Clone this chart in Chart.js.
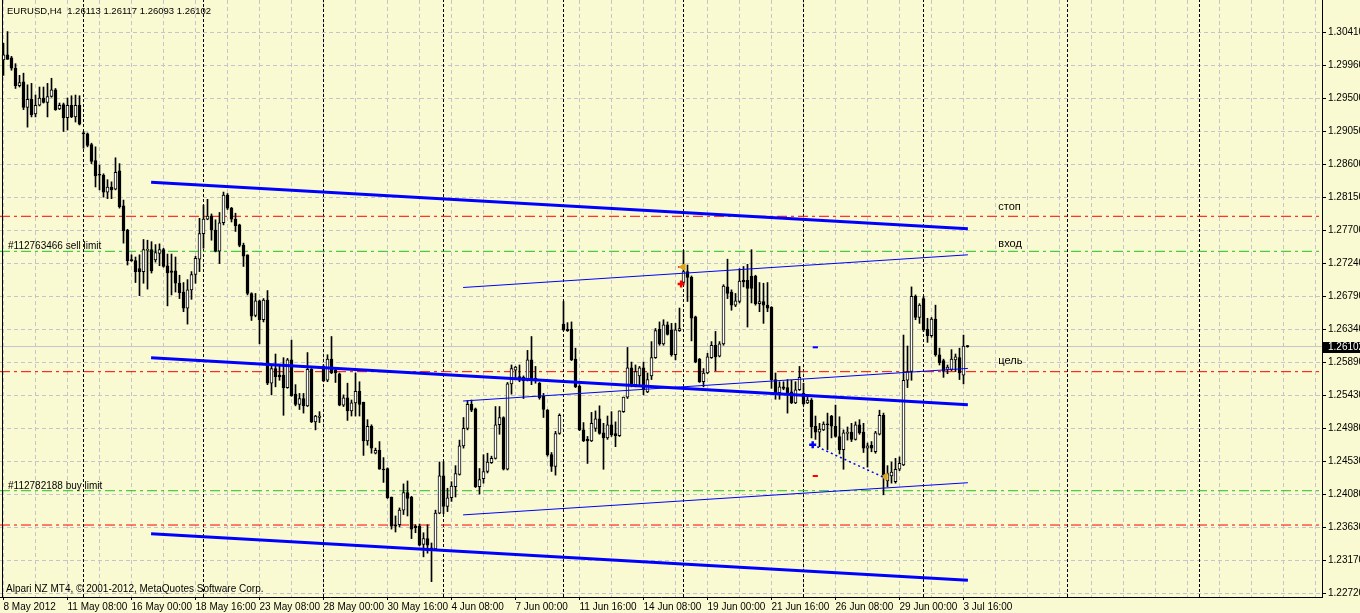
<!DOCTYPE html>
<html>
<head>
<meta charset="utf-8">
<script src="https://cdn.jsdelivr.net/npm/chart.js@4.4.1/dist/chart.umd.min.js"></script>
<style>
  html, body { margin: 0; padding: 0; background: #fafad2; }
  #wrap { width: 1360px; height: 613px; }
</style>
</head>
<body>
<div id="wrap"><canvas id="chart" width="1360" height="613"></canvas></div>
<script>
// EURUSD H4, bars from 8 May 2012 16:00 to 3 Jul 2012 20:00 (index 0..241)
const opens = [
  1.3003, 1.3010, 1.3006, 1.2992, 1.2968, 1.2973, 1.2938, 1.2949, 1.2929, 1.2941,
  1.2951, 1.2945, 1.2953, 1.2962, 1.2936, 1.2942, 1.2924, 1.2941, 1.2925, 1.2941,
  1.2903, 1.2902, 1.2887, 1.2865, 1.2846, 1.2845, 1.2822, 1.2829, 1.2826, 1.2851,
  1.2803, 1.2770, 1.2729, 1.2728, 1.2717, 1.2713, 1.2742, 1.2743, 1.2729, 1.2738,
  1.2743, 1.2721, 1.2714, 1.2714, 1.2697, 1.2685, 1.2663, 1.2688, 1.2709, 1.2730,
  1.2765, 1.2785, 1.2789, 1.2770, 1.2741, 1.2780, 1.2818, 1.2800, 1.2785, 1.2777,
  1.2749, 1.2736, 1.2683, 1.2653, 1.2673, 1.2647, 1.2674, 1.2560, 1.2580, 1.2571,
  1.2571, 1.2554, 1.2592, 1.2545, 1.2531, 1.2539, 1.2529, 1.2579, 1.2507, 1.2513,
  1.2583, 1.2564, 1.2593, 1.2578, 1.2573, 1.2530, 1.2540, 1.2522, 1.2533, 1.2549,
  1.2534, 1.2481, 1.2501, 1.2464, 1.2468, 1.2442, 1.2443, 1.2404, 1.2366, 1.2366,
  1.2386, 1.2410, 1.2404, 1.2364, 1.2364, 1.2339, 1.2347, 1.2334, 1.2333, 1.2382,
  1.2433, 1.2391, 1.2403, 1.2418, 1.2435, 1.2474, 1.2498, 1.2531, 1.2525, 1.2418,
  1.2429, 1.2439, 1.2451, 1.2457, 1.2503, 1.2513, 1.2442, 1.2559, 1.2578, 1.2569,
  1.2568, 1.2564, 1.2592, 1.2567, 1.2560, 1.2542, 1.2523, 1.2462, 1.2446, 1.2491,
  1.2641, 1.2634, 1.2634, 1.2593, 1.2556, 1.2496, 1.2483, 1.2481, 1.2498, 1.2511,
  1.2492, 1.2485, 1.2503, 1.2491, 1.2488, 1.2521, 1.2541, 1.2581, 1.2558, 1.2570,
  1.2581, 1.2548, 1.2570, 1.2595, 1.2634, 1.2614, 1.2640, 1.2633, 1.2599, 1.2632,
  1.2698, 1.2713, 1.2705, 1.2651, 1.2593, 1.2562, 1.2574, 1.2595, 1.2612, 1.2597,
  1.2614, 1.2692, 1.2685, 1.2667, 1.2672, 1.2701, 1.2701, 1.2707, 1.2707, 1.2669,
  1.2672, 1.2667, 1.2664, 1.2565, 1.2547, 1.2555, 1.2554, 1.2548, 1.2533, 1.2551,
  1.2546, 1.2533, 1.2537, 1.2501, 1.2493, 1.2496, 1.2504, 1.2515, 1.2501, 1.2487,
  1.2469, 1.2491, 1.2493, 1.2483, 1.2503, 1.2493, 1.2471, 1.2475, 1.2466, 1.2490,
  1.2516, 1.2426, 1.2433, 1.2425, 1.2442, 1.2448, 1.2564, 1.2576, 1.2679, 1.2650,
  1.2676, 1.2634, 1.2625, 1.2648, 1.2599, 1.2591, 1.2579, 1.2579, 1.2592, 1.2595,
  1.2571, 1.26113
];
const highs = [
  1.3026, 1.3042, 1.3008, 1.2998, 1.2982, 1.2985, 1.2969, 1.2971, 1.2955, 1.2966,
  1.2966, 1.2971, 1.2978, 1.2964, 1.2944, 1.2944, 1.2951, 1.2954, 1.2955, 1.2954,
  1.2905, 1.2903, 1.2889, 1.2884, 1.2859, 1.2847, 1.2839, 1.2836, 1.2869, 1.2861,
  1.2811, 1.2771, 1.2736, 1.2733, 1.2736, 1.2757, 1.2756, 1.2754, 1.2750, 1.2751,
  1.2745, 1.2737, 1.2737, 1.2733, 1.2708, 1.2698, 1.2702, 1.2713, 1.2734, 1.2786,
  1.2804, 1.2812, 1.2792, 1.2784, 1.2794, 1.2822, 1.2820, 1.2801, 1.2793, 1.2778,
  1.2752, 1.2736, 1.2684, 1.2683, 1.2674, 1.2676, 1.2687, 1.2585, 1.2600, 1.2586,
  1.2595, 1.2594, 1.2619, 1.2558, 1.2546, 1.2546, 1.2602, 1.2580, 1.2516, 1.2521,
  1.2585, 1.2599, 1.2624, 1.2579, 1.2574, 1.2544, 1.2560, 1.2537, 1.2574, 1.2562,
  1.2534, 1.2510, 1.2503, 1.2471, 1.2480, 1.2458, 1.2444, 1.2404, 1.2378, 1.2389,
  1.2422, 1.2426, 1.2405, 1.2366, 1.2367, 1.2355, 1.2366, 1.2341, 1.2386, 1.2452,
  1.2452, 1.2416, 1.2425, 1.2447, 1.2482, 1.2513, 1.2536, 1.2537, 1.2526, 1.2443,
  1.2462, 1.2464, 1.2460, 1.2528, 1.2528, 1.2514, 1.2561, 1.2585, 1.2583, 1.2585,
  1.2570, 1.2605, 1.2624, 1.2583, 1.2561, 1.2546, 1.2524, 1.2465, 1.2494, 1.2518,
  1.2672, 1.2643, 1.2644, 1.2608, 1.2558, 1.2506, 1.2487, 1.2520, 1.2522, 1.2529,
  1.2505, 1.2515, 1.2521, 1.2507, 1.2522, 1.2541, 1.2609, 1.2589, 1.2585, 1.2583,
  1.2589, 1.2574, 1.2617, 1.2635, 1.2644, 1.2647, 1.2644, 1.2642, 1.2642, 1.2663,
  1.2742, 1.2722, 1.2707, 1.2652, 1.2594, 1.2580, 1.2601, 1.2617, 1.2631, 1.2617,
  1.2695, 1.2730, 1.2688, 1.2683, 1.2717, 1.2720, 1.2723, 1.2743, 1.2708, 1.2698,
  1.2697, 1.2698, 1.2665, 1.2574, 1.2562, 1.2562, 1.2565, 1.2564, 1.2562, 1.2583,
  1.2560, 1.2544, 1.2539, 1.2515, 1.2505, 1.2507, 1.2519, 1.2516, 1.2530, 1.2514,
  1.2496, 1.2500, 1.2505, 1.2507, 1.2510, 1.2505, 1.2478, 1.2480, 1.2494, 1.2523,
  1.2519, 1.2447, 1.2452, 1.2457, 1.2459, 1.2626, 1.2611, 1.2692, 1.2681, 1.2669,
  1.2679, 1.2649, 1.2650, 1.2667, 1.2608, 1.2593, 1.2585, 1.2606, 1.2600, 1.2608,
  1.2626, 1.26117
];
const lows = [
  1.2982, 1.3004, 1.2989, 1.2964, 1.2966, 1.2935, 1.2911, 1.2925, 1.2925, 1.2940,
  1.2944, 1.2925, 1.2952, 1.2934, 1.2935, 1.2905, 1.2907, 1.2924, 1.2918, 1.2914,
  1.2882, 1.2884, 1.2861, 1.2829, 1.2825, 1.2815, 1.2813, 1.2813, 1.2825, 1.2800,
  1.2752, 1.2722, 1.2727, 1.2698, 1.2680, 1.2697, 1.2689, 1.2711, 1.2726, 1.2721,
  1.2719, 1.2666, 1.2681, 1.2685, 1.2676, 1.2658, 1.2641, 1.2675, 1.2697, 1.2713,
  1.2745, 1.2784, 1.2756, 1.2740, 1.2724, 1.2777, 1.2798, 1.2781, 1.2768, 1.2747,
  1.2720, 1.2681, 1.2646, 1.2651, 1.2614, 1.2644, 1.2558, 1.2544, 1.2555, 1.2564,
  1.2516, 1.2553, 1.2542, 1.2529, 1.2524, 1.2519, 1.2528, 1.2506, 1.2496, 1.2506,
  1.2562, 1.2562, 1.2573, 1.2561, 1.2529, 1.2528, 1.2509, 1.2515, 1.2515, 1.2515,
  1.2461, 1.2475, 1.2464, 1.2463, 1.2442, 1.2424, 1.2402, 1.2360, 1.2356, 1.2363,
  1.2380, 1.2378, 1.2347, 1.2355, 1.2337, 1.2322, 1.2327, 1.2288, 1.2331, 1.2381,
  1.2381, 1.2384, 1.2398, 1.2404, 1.2434, 1.2471, 1.2496, 1.2521, 1.2417, 1.2408,
  1.2423, 1.2437, 1.2450, 1.2456, 1.2490, 1.2441, 1.2441, 1.2545, 1.2567, 1.2562,
  1.2539, 1.2563, 1.2558, 1.2560, 1.2538, 1.2513, 1.2460, 1.2439, 1.2434, 1.2490,
  1.2632, 1.2631, 1.2591, 1.2554, 1.2495, 1.2480, 1.2450, 1.2480, 1.2494, 1.2490,
  1.2442, 1.2483, 1.2487, 1.2473, 1.2487, 1.2520, 1.2539, 1.2555, 1.2555, 1.2556,
  1.2544, 1.2547, 1.2565, 1.2594, 1.2612, 1.2612, 1.2626, 1.2597, 1.2592, 1.2631,
  1.2697, 1.2672, 1.2618, 1.2588, 1.2561, 1.2555, 1.2573, 1.2594, 1.2577, 1.2596,
  1.2612, 1.2676, 1.2660, 1.2665, 1.2670, 1.2692, 1.2637, 1.2670, 1.2667, 1.2658,
  1.2642, 1.2658, 1.2553, 1.2538, 1.2538, 1.2551, 1.2519, 1.2532, 1.2532, 1.2550,
  1.2530, 1.2532, 1.2485, 1.2483, 1.2473, 1.2495, 1.2469, 1.2485, 1.2486, 1.2463,
  1.2442, 1.2482, 1.2480, 1.2482, 1.2490, 1.2465, 1.2445, 1.2466, 1.2464, 1.2489,
  1.2407, 1.2418, 1.2423, 1.2423, 1.2440, 1.2447, 1.2554, 1.2564, 1.2647, 1.2642,
  1.2631, 1.2616, 1.2623, 1.2597, 1.2585, 1.2568, 1.2573, 1.2577, 1.2576, 1.2565,
  1.2559, 1.26093
];
const closes = [
  1.3010, 1.3004, 1.2992, 1.2968, 1.2972, 1.2938, 1.2949, 1.2928, 1.2941, 1.2951,
  1.2945, 1.2953, 1.2962, 1.2935, 1.2941, 1.2924, 1.2941, 1.2925, 1.2941, 1.2915,
  1.2902, 1.2886, 1.2864, 1.2844, 1.2845, 1.2822, 1.2829, 1.2825, 1.2849, 1.2802,
  1.2769, 1.2728, 1.2728, 1.2713, 1.2713, 1.2743, 1.2743, 1.2714, 1.2739, 1.2743,
  1.2720, 1.2711, 1.2712, 1.2697, 1.2684, 1.2663, 1.2688, 1.2709, 1.2731, 1.2765,
  1.2785, 1.2789, 1.2770, 1.2741, 1.2780, 1.2818, 1.2800, 1.2785, 1.2776, 1.2749,
  1.2734, 1.2683, 1.2652, 1.2673, 1.2647, 1.2674, 1.2560, 1.2580, 1.2569, 1.2569,
  1.2554, 1.2592, 1.2543, 1.2531, 1.2539, 1.2529, 1.2579, 1.2507, 1.2515, 1.2515,
  1.2563, 1.2593, 1.2574, 1.2574, 1.2530, 1.2540, 1.2522, 1.2533, 1.2549, 1.2531,
  1.2481, 1.2501, 1.2471, 1.2468, 1.2442, 1.2441, 1.2403, 1.2364, 1.2364, 1.2386,
  1.2410, 1.2402, 1.2360, 1.2362, 1.2338, 1.2347, 1.2338, 1.2333, 1.2382, 1.2433,
  1.2391, 1.2403, 1.2419, 1.2436, 1.2474, 1.2498, 1.2531, 1.2523, 1.2418, 1.2428,
  1.2439, 1.2452, 1.2457, 1.2503, 1.2513, 1.2442, 1.2559, 1.2580, 1.2582, 1.2564,
  1.2563, 1.2592, 1.2563, 1.2563, 1.2540, 1.2524, 1.2462, 1.2446, 1.2491, 1.2516,
  1.2633, 1.2632, 1.2592, 1.2555, 1.2496, 1.2481, 1.2481, 1.2505, 1.2511, 1.2491,
  1.2485, 1.2503, 1.2489, 1.2488, 1.2522, 1.2541, 1.2581, 1.2558, 1.2576, 1.2581,
  1.2551, 1.2565, 1.2595, 1.2632, 1.2614, 1.2640, 1.2627, 1.2599, 1.2633, 1.2635,
  1.2713, 1.2705, 1.2649, 1.2589, 1.2562, 1.2574, 1.2596, 1.2612, 1.2596, 1.2614,
  1.2693, 1.2683, 1.2667, 1.2673, 1.2700, 1.2699, 1.2690, 1.2690, 1.2669, 1.2672,
  1.2667, 1.2663, 1.2565, 1.2547, 1.2555, 1.2553, 1.2547, 1.2533, 1.2551, 1.2568,
  1.2532, 1.2537, 1.2500, 1.2493, 1.2497, 1.2504, 1.2503, 1.2501, 1.2487, 1.2469,
  1.2492, 1.2493, 1.2483, 1.2503, 1.2492, 1.2471, 1.2474, 1.2471, 1.2492, 1.2516,
  1.2432, 1.2436, 1.2438, 1.2442, 1.2450, 1.2564, 1.2576, 1.2679, 1.2650, 1.2667,
  1.2633, 1.2625, 1.2648, 1.2599, 1.2588, 1.2576, 1.2582, 1.2593, 1.2596, 1.2574,
  1.2611, 1.26102
];

// time axis: a label every 16 bars, grid every 8 bars
const dateLabels = ["8 May 2012", "11 May 08:00", "16 May 00:00", "18 May 16:00", "23 May 08:00",
  "28 May 00:00", "30 May 16:00", "4 Jun 08:00", "7 Jun 00:00", "11 Jun 16:00", "14 Jun 08:00",
  "19 Jun 00:00", "21 Jun 16:00", "26 Jun 08:00", "29 Jun 00:00", "3 Jul 16:00"];
const priceLabels = ["1.30410", "1.29960", "1.29500", "1.29050", "1.28600", "1.28150", "1.27700",
  "1.27240", "1.26790", "1.26340", "1.25890", "1.25430", "1.24980", "1.24530", "1.24080",
  "1.23630", "1.23170", "1.22720"];

// week separators (bar index)
const sepBars = [20, 50, 80, 110, 140, 170, 200, 230, 266, 299];

// channel lines [bar1, price1, bar2, price2]
const thickLines = [
  [36.9, 1.28355, 241.1, 1.27717],
  [36.9, 1.25948, 241.1, 1.25303],
  [36.9, 1.23537, 241.1, 1.22900]
];
const thinLines = [
  [114.9, 1.26912, 241.1, 1.27360],
  [114.9, 1.25356, 241.1, 1.25803],
  [114.9, 1.23795, 241.1, 1.24236]
];

// horizontal levels: stop, sell limit, target, buy limit, buy stop
const levelPrices = [1.27888, 1.27408, 1.25758, 1.24126, 1.23656];
const levelIsOrder = [false, true, false, true, false];
const bidPrice = 1.26102;

// text notes
const noteTexts = ["стоп", "вход", "цель"];
const noteBars = [248.7, 248.7, 248.7];
const notePrices = [1.27974, 1.27463, 1.25863];

// trade marks
const tradeOpen = [202.3, 1.24757];
const tradeClose = [219.9, 1.24314];
const tradeSL = [1.26092];
const tradeTP = [1.24328];
const sellMarkBar = 169.4, sellMarkPrice = 1.26960;
const closeMarks = [[169.9, 1.27193], [220.4, 1.24319]];

const Y_MAX = 1.308528, Y_MIN = 1.226693;
const X_MIN = -0.875, X_MAX = 329.625;
const last = closes.length - 1;
const FONT = '"Liberation Sans", Arial, sans-serif';

const wickData = opens.map((_, i) => ({ x: i, y: [lows[i], highs[i]] }));
const bodyData = opens.map((_, i) => ({ x: i, y: [opens[i], closes[i]] }));

const sepData = [];
sepBars.forEach(b => {
  sepData.push({ x: b, y: Y_MIN }, { x: b, y: Y_MAX }, { x: b, y: null });
});

const seg = (l) => [{ x: l[0], y: l[1] }, { x: l[2], y: l[3] }];

const datasets = [];

// trade marks on top
datasets.push({
  type: 'line', data: [{ x: tradeOpen[0], y: tradeOpen[1] }, { x: tradeClose[0], y: tradeClose[1] }],
  borderColor: '#0000ff', borderWidth: 1.5, borderDash: [2, 3], pointRadius: 0, order: 0
});
datasets.push({
  type: 'line', data: [{ x: tradeOpen[0], y: tradeOpen[1] }], showLine: false,
  pointStyle: 'cross', pointRadius: 3.5, pointBorderWidth: 2.5, pointBorderColor: '#0000ff', order: 0
});
datasets.push({
  type: 'line', data: [{ x: sellMarkBar, y: sellMarkPrice }], showLine: false,
  pointStyle: 'cross', pointRadius: 3.5, pointBorderWidth: 2.5, pointBorderColor: '#ff0000', order: 0
});
datasets.push({
  type: 'line', data: closeMarks.map(m => ({ x: m[0], y: m[1] })), showLine: false,
  pointStyle: 'triangle', rotation: -90, pointRadius: 4, pointBackgroundColor: '#daa520',
  pointBorderColor: '#daa520', order: 0
});
datasets.push({
  type: 'line', data: [{ x: tradeOpen[0], y: tradeSL[0] }, { x: tradeOpen[0] + 1.3, y: tradeSL[0] }],
  borderColor: '#0000ff', borderWidth: 2, pointRadius: 0, order: 0
});
datasets.push({
  type: 'line', data: [{ x: tradeOpen[0], y: tradeTP[0] }, { x: tradeOpen[0] + 1.3, y: tradeTP[0] }],
  borderColor: '#ff0000', borderWidth: 2, pointRadius: 0, order: 0
});
datasets.push({
  type: 'line', data: [{ x: sellMarkBar - 0.8, y: closeMarks[0][1] }, { x: sellMarkBar + 0.4, y: closeMarks[0][1] }],
  borderColor: '#ff0000', borderWidth: 1.5, pointRadius: 0, order: 0
});

// channel lines
thickLines.forEach(l => datasets.push({
  type: 'line', data: seg(l), borderColor: '#0000ff', borderWidth: 3, pointRadius: 0, order: 1
}));
thinLines.forEach(l => datasets.push({
  type: 'line', data: seg(l), borderColor: '#0000ff', borderWidth: 1, pointRadius: 0, order: 1
}));

// candles
datasets.push({
  type: 'bar', data: bodyData, grouped: false, barThickness: 3, minBarLength: 1,
  backgroundColor: c => closes[c.dataIndex] > opens[c.dataIndex] ? '#ffffff' : '#000000',
  borderColor: '#000000', borderWidth: 1, borderSkipped: false, order: 2
});
datasets.push({
  type: 'bar', data: wickData, grouped: false, barThickness: 1, minBarLength: 1,
  backgroundColor: '#000000', order: 3
});

// levels
levelPrices.forEach((p, i) => datasets.push({
  type: 'line', data: [{ x: X_MIN, y: p }, { x: X_MAX, y: p }],
  borderColor: levelIsOrder[i] ? '#20c020' : '#ff0000', borderWidth: 1,
  borderDash: [10, 4, 3, 4], pointRadius: 0, order: 4
}));
datasets.push({
  type: 'line', data: sepData, borderColor: '#000000', borderWidth: 1, borderDash: [3, 2],
  pointRadius: 0, spanGaps: false, order: 5
});
datasets.push({
  type: 'line', data: [{ x: X_MIN, y: bidPrice }, { x: X_MAX, y: bidPrice }],
  borderColor: '#c4c4cc', borderWidth: 1, pointRadius: 0, order: 6
});

const overlay = {
  id: 'overlay',
  beforeDraw(chart) {
    const ctx = chart.ctx;
    ctx.save();
    ctx.fillStyle = '#fafad2';
    ctx.fillRect(0, 0, chart.width, chart.height);
    ctx.restore();
  },
  afterDraw(chart) {
    const { ctx, chartArea: a, scales: { x, y } } = chart;
    ctx.save();
    ctx.fillStyle = '#000';
    ctx.textBaseline = 'alphabetic';
    ctx.font = '9.5px ' + FONT;
    const ohlc = [opens[last], highs[last], lows[last], closes[last]].map(v => v.toFixed(5)).join(' ');
    ctx.fillText('EURUSD,H4  ' + ohlc, 7, 13.5);
    ctx.font = '10px ' + FONT;
    ctx.fillText('#112763466 sell limit', 8, y.getPixelForValue(levelPrices[1]) - 2);
    ctx.fillText('#112782188 buy limit', 8, y.getPixelForValue(levelPrices[3]) - 2);
    ctx.fillText('Alpari NZ MT4, \u00a9 2001-2012, MetaQuotes Software Corp.', 6, a.bottom - 5.5);
    ctx.font = '11px ' + FONT;
    noteTexts.forEach((t, i) => {
      ctx.fillText(t, x.getPixelForValue(noteBars[i]), y.getPixelForValue(notePrices[i]));
    });
    // left frame line
    ctx.fillRect(2, 0, 1, a.bottom);
    // current price tag
    const py = Math.round(y.getPixelForValue(closes[last]));
    ctx.fillRect(a.right + 1, py - 5, chart.width - a.right, 11);
    ctx.fillStyle = '#fff';
    ctx.textBaseline = 'middle';
    ctx.font = '10px ' + FONT;
    ctx.fillText(closes[last].toFixed(5), a.right + 6, py + 0.5);
    ctx.restore();
  }
};

new Chart(document.getElementById('chart'), {
  type: 'bar',
  data: { datasets },
  plugins: [overlay],
  options: {
    responsive: false,
    devicePixelRatio: 1,
    animation: false,
    events: [],
    layout: { padding: 0, autoPadding: false },
    plugins: { legend: { display: false }, tooltip: { enabled: false } },
    scales: {
      x: {
        type: 'linear', position: 'bottom', min: X_MIN, max: X_MAX, offset: false,
        afterBuildTicks: s => {
          const t = [];
          for (let v = 0; v <= X_MAX; v += 8) t.push({ value: v });
          s.ticks = t;
        },
        afterFit: s => { s.height = 16; s.paddingLeft = 0; s.paddingRight = 0; },
        ticks: {
          autoSkip: false, maxRotation: 0, minRotation: 0, align: 'start', padding: 1,
          color: '#000', font: { family: FONT, size: 10 },
          callback: v => (v % 16 === 0 && v / 16 < dateLabels.length) ? dateLabels[v / 16] : ''
        },
        grid: {
          offset: false, color: '#c4c4cc', lineWidth: 1, tickLength: 3,
          tickColor: c => (c.tick && c.tick.value % 16 === 0 && c.tick.value / 16 < dateLabels.length) ? '#000' : 'rgba(0,0,0,0)'
        },
        border: { display: true, color: '#000', width: 1, dash: [4, 3] }
      },
      y: {
        type: 'linear', position: 'right', min: Y_MIN, max: Y_MAX,
        afterBuildTicks: s => {
          const step = (1.30410 - 1.22720) / (priceLabels.length - 1);
          s.ticks = priceLabels.map((_, i) => ({ value: 1.30410 - i * step }));
        },
        afterFit: s => { s.width = 38; s.paddingTop = 0; s.paddingBottom = 0; },
        ticks: {
          padding: 2, color: '#000', font: { family: FONT, size: 10 },
          callback: (v, i) => priceLabels[i]
        },
        grid: { color: '#c4c4cc', lineWidth: 1, tickLength: 4, tickColor: '#000' },
        border: { display: true, color: '#000', width: 1, dash: [4, 3] }
      }
    }
  }
});
</script>
</body>
</html>
